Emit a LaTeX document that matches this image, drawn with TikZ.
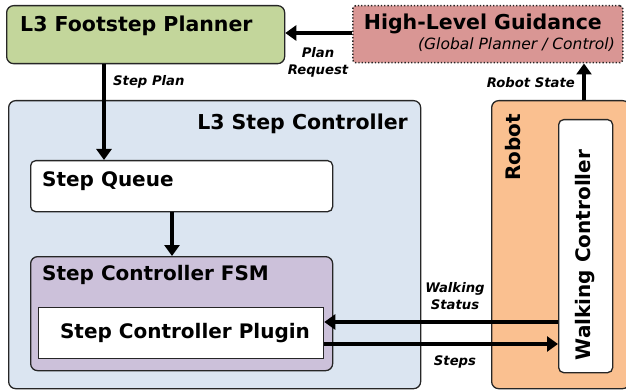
\documentclass[tikz,border=0pt]{standalone}
\usepackage{fontspec}
\setmainfont{DejaVu Sans}
\usetikzlibrary{arrows.meta}
\definecolor{cgreen}{HTML}{C3D69B}
\definecolor{cpink}{HTML}{D99694}
\definecolor{cblue}{HTML}{DBE5F1}
\definecolor{cpurple}{HTML}{CCC1DA}
\definecolor{corange}{HTML}{FAC090}
\begin{document}
\begin{tikzpicture}[x=1pt,y=-1pt,
  box/.style={draw=black!85, line width=1.3pt, rounded corners=7pt, anchor=north west, inner sep=0pt},
  arr/.style={line width=4.8pt, -{Triangle[length=11pt,width=15pt]}},
  lbl/.style={font=\fontsize{13.2}{17}\selectfont\bfseries\itshape, align=center, inner sep=0pt},
  ttl/.style={font=\fontsize{20.5}{24}\selectfont\bfseries, inner sep=0pt},
  sub/.style={font=\fontsize{20}{23}\selectfont\bfseries, inner sep=0pt}]
\useasboundingbox (0,0) rectangle (626,390);
% boxes
\node[box, fill=cgreen, minimum width=278pt, minimum height=58pt] (fp) at (6,5) {};
\node[box, fill=cpink, dotted, line width=1.5pt, rounded corners=3pt, minimum width=270pt, minimum height=57pt] (hl) at (352,5) {};
\node[box, fill=cblue, minimum width=412pt, minimum height=288pt] (sc) at (8,100) {};
\node[box, fill=white, rounded corners=5pt, minimum width=302pt, minimum height=51pt] (sq) at (30,160) {};
\node[box, fill=cpurple, minimum width=302pt, minimum height=114pt] (fsm) at (30,256) {};
\node[box, fill=white, rounded corners=0pt, minimum width=285pt, minimum height=51pt] (pl) at (38,307) {};
\node[box, fill=corange, minimum width=138pt, minimum height=288pt] (rb) at (491,100) {};
\node[box, fill=white, rounded corners=5pt, minimum width=54pt, minimum height=253pt] (wc) at (558,119) {};
% texts
\node[ttl, anchor=west] (tfp) at (20,26) {L3 Footstep Planner};
\node[ttl, anchor=east] (thl) at (602,24) {High-Level Guidance};
\node[font=\fontsize{15.5}{18}\selectfont\itshape, anchor=east, inner sep=0pt] (thl2) at (615,45) {(Global Planner / Control)};
\node[ttl, anchor=east] (tsc) at (408,124) {L3 Step Controller};
\node[sub, anchor=west] (tsq) at (42,181) {Step Queue};
\node[sub, anchor=west] (tfsm) at (42,275) {Step Controller FSM};
\node[sub] (tpl) at (185,333) {Step Controller Plugin};
\node[sub, rotate=90, anchor=east] (trb) at (513,114) {Robot};
\node[sub, rotate=90] (twc) at (585,255) {Walking Controller};
% labels
\node[lbl] (lpr) at (318,62) {Plan\\Request};
\node[lbl, anchor=west] (lsp) at (113,82) {Step Plan};
\node[lbl, anchor=east] (lrs) at (575,83) {Robot State};
\node[lbl] (lws) at (455,296) {Walking\\Status};
\node[lbl] (lst) at (455,362) {Steps};
% arrows
\draw[arr] (hl.west |- 0,33) -- (fp.east |- 0,33);
\draw[arr] (fp.south -| 104,0) -- (sq.north -| 104,0);
\draw[arr] (sq.south -| 172,0) -- (fsm.north -| 172,0);
\draw[arr] (rb.north -| 584,0) -- (hl.south -| 584,0);
\draw[arr] (wc.west |- 0,322) -- (pl.east |- 0,322);
\draw[arr] (pl.east |- 0,344) -- (wc.west |- 0,344);
\end{tikzpicture}
\end{document}
